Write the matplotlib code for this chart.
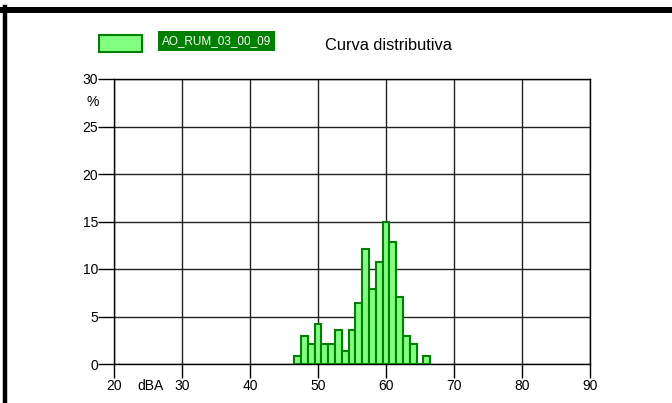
import matplotlib
matplotlib.use("Agg")
import matplotlib.pyplot as plt
from matplotlib.lines import Line2D
from matplotlib.patches import Rectangle

# distribution of levels, % per 1 dBA class
levels = [47, 48, 49, 50, 51, 52, 53, 54, 55, 56,
          57, 58, 59, 60, 61, 62, 63, 64, 65, 66]
percent = [0.8, 2.9, 2.1, 4.2, 2.1, 2.1, 3.6, 1.4, 3.6, 6.4,
           12.1, 7.9, 10.7, 14.9, 12.8, 7.1, 2.9, 2.1, 0.0, 0.8]
series_name = 'AO_RUM_03_00_09'
title = 'Curva distributiva'
xticks = [20, 30, 40, 50, 60, 70, 80, 90]
yticks = [0, 5, 10, 15, 20, 25, 30]

fill_col = '#80ff80'
edge_col = '#008000'

plt.rcParams['font.family'] = ['Liberation Sans', 'DejaVu Sans']

fig = plt.figure(figsize=(6.72, 4.03), dpi=100)
ax = fig.add_axes([114 / 672, 1 - 364 / 403, 476 / 672, 285 / 403])

ax.bar(levels, percent, width=1.0, color=fill_col, edgecolor=edge_col,
       linewidth=1.5, zorder=3)

ax.set_xlim(20, 90)
ax.set_ylim(0, 30)
ax.set_xticks(xticks)
ax.set_yticks(yticks)
ax.grid(True, color='#222222', linewidth=1)
ax.set_axisbelow(True)
for s in ax.spines.values():
    s.set_color('black')
    s.set_linewidth(1)
ax.tick_params(axis='y', direction='out', length=11.5, width=1, pad=0, labelsize=10)
ax.tick_params(axis='x', direction='out', length=10, width=1, pad=1, labelsize=10)

# axis unit labels
fig.text(93 / 672, 1 - 102 / 403, '%', fontsize=10, ha='center', va='center')
fig.text(150 / 672, 1 - 386 / 403, 'dBA', fontsize=10, ha='center', va='center')

# legend items
fig.add_artist(Rectangle((99 / 672, 1 - 52 / 403), 43 / 672, 17 / 403,
                         transform=fig.transFigure, facecolor=fill_col,
                         edgecolor=edge_col, linewidth=1.5))
fig.text(162 / 672, 1 - 41 / 403, series_name, color='white', fontsize=8.5,
         ha='left', va='center',
         bbox=dict(facecolor=edge_col, edgecolor='none', pad=3))
fig.text(325 / 672, 1 - 46 / 403, title, fontsize=11.8,
         ha='left', va='center')

# frame lines around the picture
fig.add_artist(Line2D([3 / 672, 1], [1 - 10 / 403, 1 - 10 / 403],
                      transform=fig.transFigure, color='black', linewidth=4.3))
fig.add_artist(Line2D([5 / 672, 5 / 672], [0, 1 - 7 / 403],
                      transform=fig.transFigure, color='black', linewidth=3.2))

fig.savefig('out.png', dpi=100)
